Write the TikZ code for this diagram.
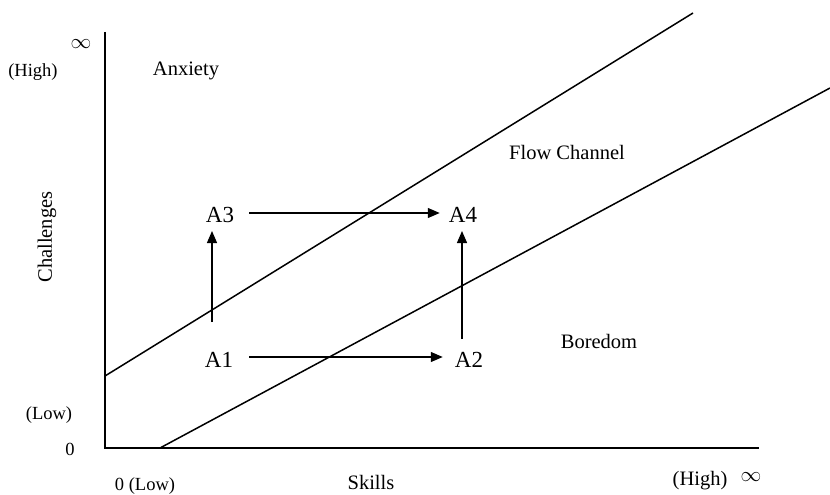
\documentclass[tikz,border=0pt]{standalone}
\usepackage{fontspec}
\setmainfont{Liberation Serif}
\usetikzlibrary{arrows.meta}
\begin{document}
\begin{tikzpicture}[x=1pt,y=-1pt,
  axis/.style={line width=1.6pt},
  boundary/.style={line width=1.5pt},
  move/.style={line width=1.3pt,-{Triangle[length=12pt,width=10pt]}},
  lbl/.style={inner sep=0pt,font=\fontsize{20.5}{20.5}\selectfont},
  small/.style={inner sep=0pt,font=\fontsize{18.5}{18.5}\selectfont},
  inf/.style={inner sep=0pt,font=\fontsize{21}{21}\selectfont},
  state/.style={inner sep=0pt,font=\fontsize{23}{23}\selectfont}]
\useasboundingbox (0,0) rectangle (830,495);
% axes
\coordinate (O) at (105,448);
\coordinate (Ytop) at (105,32);
\coordinate (Xend) at (759,448);
\draw[axis] (Ytop) -- (O) -- (Xend);
% channel boundaries
\coordinate (U0) at (105,376);
\coordinate (U1) at (693,13);
\coordinate (L0) at (160,448);
\coordinate (L1) at (830,88);
\draw[boundary] (U0) -- (U1);
\draw[boundary] (L0) -- (L1);
% axis labels
\node[inf] (inftop) at (81,44) {$\infty$};
\node[small] (hightop) at (33,72) {(High)};
\node[small] (lowy) at (49,415) {(Low)};
\node[small] (zeroy) at (70,449) {0};
\node[small] (zerox) at (145,486) {0 (Low)};
\node[lbl] (skills) at (371,482) {Skills};
\node[lbl] (highx) at (700,481) {(High)};
\node[inf] (infx) at (751,477) {$\infty$};
\node[lbl,rotate=90] (chal) at (47,237) {Challenges};
% regions
\node[lbl] (anx) at (186,71) {Anxiety};
\node[lbl] (flow) at (567,152) {Flow Channel};
\node[lbl] (bor) at (599,341) {Boredom};
% states
\node[state] (A1) at (219,360) {A1};
\node[state] (A2) at (469,360) {A2};
\node[state] (A3) at (220,215) {A3};
\node[state] (A4) at (463,215) {A4};
% arrows
\coordinate (a1s) at (212,322);
\coordinate (a3e) at (212,231);
\coordinate (a2s) at (462,339);
\coordinate (a4e) at (462,231);
\draw[move] ([xshift=16pt]A1.east |- 0,357) -- ([xshift=-12pt]A2.west |- 0,357);
\draw[move] ([xshift=15pt]A3.east |- 0,213) -- ([xshift=-9pt]A4.west |- 0,213);
\draw[move] (a1s) -- (a3e);
\draw[move] (a2s) -- (a4e);
\end{tikzpicture}
\end{document}
